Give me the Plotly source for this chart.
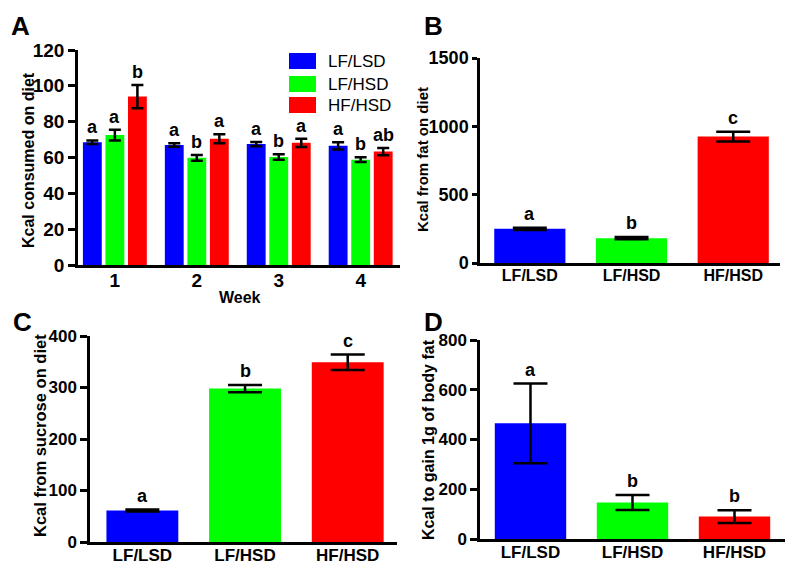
import plotly.graph_objects as go

# ---------------- data ----------------
groups = ["LF/LSD", "LF/HSD", "HF/HSD"]
colors = ["#0000FF", "#00FF00", "#FF0000"]

weeks = [1, 2, 3, 4]
a_lf_lsd = [68.5, 67.0, 67.5, 66.5]
a_lf_lsd_err = [1.0, 1.0, 1.2, 2.0]
a_lf_hsd = [72.5, 59.8, 60.3, 58.8]
a_lf_hsd_err = [3.0, 1.6, 1.5, 1.3]
a_hf_hsd = [94.0, 70.5, 68.2, 63.3]
a_hf_hsd_err = [6.5, 2.5, 2.3, 2.0]
a_letters = [["a", "a", "a", "a"], ["a", "b", "b", "b"], ["b", "a", "a", "ab"]]

b_vals = [250, 182, 925]
b_err = [8, 8, 36]
b_letters = ["a", "b", "c"]

c_vals = [61, 298, 349]
c_err = [2, 7, 15]
c_letters = ["a", "b", "c"]

d_vals = [465, 147, 90]
d_err = [160, 30, 26]
d_letters = ["a", "b", "b"]

y_titles = ["Kcal consumed on diet", "Kcal from fat on diet",
            "Kcal from sucrose on diet", "Kcal to gain 1g of body fat"]

W, H = 800, 580
OFF = 8  # page body margin
FONT = "Liberation Sans"


def px(x):
    return (x - OFF) / W


def py(y):
    return 1 - (y - OFF) / H


fig = go.Figure()

# ---------------- panel A ----------------
a_series = [(a_lf_lsd, a_lf_lsd_err), (a_lf_hsd, a_lf_hsd_err), (a_hf_hsd, a_hf_hsd_err)]
bw = 0.23
offsets = [-0.39, -0.115, 0.16]
ann = []
for i, (vals, errs) in enumerate(a_series):
    fig.add_trace(go.Bar(
        x=weeks, y=vals, name=groups[i], marker=dict(color=colors[i], line=dict(width=0)),
        width=bw, offset=offsets[i],
        error_y=dict(type="data", array=errs, color="black", thickness=2.5, width=6),
        xaxis="x", yaxis="y", showlegend=False))
    for w, v, e, t in zip(weeks, vals, errs, a_letters[i]):
        ann.append(dict(x=w + offsets[i] + bw / 2, y=v + e, xref="x", yref="y", text=t,
                        showarrow=False, yanchor="bottom", yshift=1,
                        font=dict(family=FONT, size=18, color="black", weight="bold")))

# ---------------- panels B, C, D ----------------
for vals, errs, letters, xa, ya in [(b_vals, b_err, b_letters, "x2", "y2"),
                                   (c_vals, c_err, c_letters, "x3", "y3"),
                                   (d_vals, d_err, d_letters, "x4", "y4")]:
    fig.add_trace(go.Bar(
        x=groups, y=vals, marker=dict(color=colors, line=dict(width=0)), width=0.7,
        error_y=dict(type="data", array=errs, color="black", thickness=2.5, width=17),
        xaxis=xa, yaxis=ya, showlegend=False))
    for g, v, e, t in zip(groups, vals, errs, letters):
        ann.append(dict(x=g, y=v + e, xref=xa, yref=ya, text=t, showarrow=False,
                        yanchor="bottom", yshift=2,
                        font=dict(family=FONT, size=18, color="black", weight="bold")))

# legend for panel A (drawn manually)
shapes = []
leg_rows = [61, 84, 105]
for i, g in enumerate(groups):
    y = leg_rows[i]
    shapes.append(dict(type="rect", xref="paper", yref="paper", x0=px(289), x1=px(316),
                       y0=py(y + 8), y1=py(y - 8), fillcolor=colors[i], line=dict(width=0)))
    ann.append(dict(x=px(326), y=py(y), xref="paper", yref="paper", text=g, showarrow=False,
                    xanchor="left", yanchor="middle",
                    font=dict(family=FONT, size=17, color="black")))

# panel letters
for lab, x, y in [("A", 20, 26), ("B", 433, 26), ("C", 22, 322), ("D", 433, 322)]:
    ann.append(dict(x=px(x), y=py(y), xref="paper", yref="paper", text=lab, showarrow=False,
                    xanchor="center", yanchor="middle",
                    font=dict(family=FONT, size=26, color="black", weight="bold")))

# y-axis titles
titlefont = dict(family=FONT, size=16, color="black", weight="bold")
for t, x, y, s in zip(y_titles, [28, 422, 40, 428], [160, 159, 436, 440], [16, 15, 16.5, 16]):
    ann.append(dict(x=px(x), y=py(y), xref="paper", yref="paper", text=t, showarrow=False,
                    textangle=-90, xanchor="center", yanchor="middle",
                    font=dict(family=FONT, size=s, color="black", weight="bold")))
# x-axis title for panel A
ann.append(dict(x=px(240), y=py(297), xref="paper", yref="paper", text="Week", showarrow=False,
                xanchor="center", yanchor="middle", font=titlefont))


def yax(domain, rng, dtick, anchor, size, ticklen=7):
    return dict(domain=domain, range=rng, dtick=dtick, anchor=anchor, showline=True,
                linecolor="black", linewidth=2.5, ticks="outside", ticklen=ticklen, tickwidth=2.5,
                tickcolor="black", showgrid=False, zeroline=False, automargin=False,
                tickfont=dict(family=FONT, size=size, color="black", weight="bold"),
                fixedrange=True)


def xax(domain, rng, anchor, size, **kw):
    d = dict(domain=domain, range=rng, anchor=anchor, showline=True, linecolor="black",
             linewidth=2.5, ticks="", showgrid=False, zeroline=False, automargin=False,
             ticklabelstandoff=-4,
             tickfont=dict(family=FONT, size=size, color="black", weight="bold"),
             fixedrange=True)
    d.update(kw)
    return d


fig.update_layout(
    width=W, height=H, margin=dict(l=0, r=0, t=0, b=0, autoexpand=False),
    paper_bgcolor="white", plot_bgcolor="white", barmode="overlay",
    xaxis=xax([px(78), px(400)], [0.55, 4.48], "y", 19, tickvals=weeks),
    yaxis=yax([py(265), py(50)], [0, 120], 20, "x", 19),
    xaxis2=xax([px(480), px(780)], [-0.49, 2.46], "y2", 16, type="category"),
    yaxis2=yax([py(263), py(58)], [0, 1500], 500, "x2", 18, ticklen=5),
    xaxis3=xax([px(90), px(397)], [-0.51, 2.48], "y3", 17, type="category"),
    yaxis3=yax([py(542), py(336)], [0, 400], 100, "x3", 17),
    xaxis4=xax([px(480), px(785)], [-0.495, 2.495], "y4", 17, type="category"),
    yaxis4=yax([py(539), py(340)], [0, 800], 200, "x4", 17),
    annotations=ann, shapes=shapes,
)

fig.write_html("out.html")
